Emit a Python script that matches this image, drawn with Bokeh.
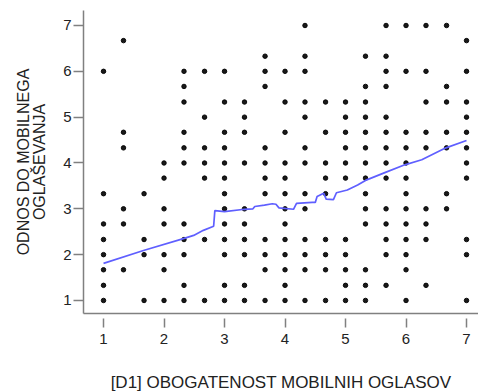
from bokeh.plotting import figure
from bokeh.models import Range1d, FixedTicker
from bokeh.embed import file_html
from bokeh.resources import INLINE

# y levels (scale averages) and the x values that occur at each level
y_levels = [7, 6.67, 6.33, 6, 5.67, 5.33, 5, 4.67, 4.33, 4,
            3.67, 3.33, 3, 2.67, 2.33, 2, 1.67, 1.33, 1]
x_at_level = [
    [4.33, 5.67, 6, 6.33, 6.67],
    [1.33, 7],
    [3.67, 4.33, 5.33, 5.67],
    [1, 2.33, 2.67, 3, 3.67, 4, 4.33, 5.67, 6, 6.33, 7],
    [2.33, 3.67, 5.33, 5.67, 6.67],
    [2.33, 3, 3.33, 4, 4.33, 4.67, 5, 5.33, 6.33, 6.67, 7],
    [2.67, 3.33, 4.33, 5, 5.33, 5.67, 7],
    [1.33, 2.33, 3, 3.33, 4, 4.67, 5, 5.33, 5.67, 6, 6.33, 6.67, 7],
    [1.33, 2.33, 2.67, 3, 3.67, 4.33, 5, 5.33, 5.67, 6, 6.33, 6.67, 7],
    [2, 2.33, 2.67, 3, 3.33, 3.67, 4, 4.33, 4.67, 5, 5.33, 5.67, 6, 7],
    [2, 2.67, 3, 3.67, 4, 4.67, 5, 5.33, 5.67, 6, 7],
    [1, 1.67, 3, 3.67, 4, 4.33, 4.67, 5.33, 6, 6.67],
    [1.33, 2, 3, 3.33, 4, 4.33, 5.33, 5.67, 6, 6.33, 6.67],
    [1, 1.33, 2, 2.33, 3, 3.33, 4, 5.33, 5.67, 6, 6.33],
    [1, 1.67, 2.33, 2.67, 3, 3.33, 3.67, 4, 4.33, 4.67, 5, 5.67, 6, 6.33, 7],
    [1, 1.67, 2, 2.33, 3, 3.33, 3.67, 4, 4.33, 4.67, 5, 5.67, 6, 7],
    [1, 1.33, 2, 3.67, 4, 4.33, 4.67, 5, 5.33, 6],
    [1, 2.33, 3, 3.33, 4, 5, 5.33, 5.67, 6.33],
    [1, 1.67, 2, 2.33, 2.67, 3, 3.33, 3.67, 4, 4.33, 4.67, 5, 5.33, 6, 7],
]

# loess fit line
fit_x = [1.0, 1.66, 2.32, 2.49, 2.65, 2.82, 2.84, 3.0, 3.33, 3.47, 3.50,
         3.66, 3.79, 3.85, 3.90, 4.14, 4.19, 4.45, 4.50, 4.53, 4.64, 4.68,
         4.80, 4.85, 5.03, 5.20, 5.33, 5.65, 5.98, 6.26, 6.66, 7.0]
fit_y = [1.81, 2.09, 2.35, 2.42, 2.53, 2.62, 2.96, 2.94, 2.99, 3.00, 3.05,
         3.08, 3.11, 3.10, 3.02, 2.99, 3.12, 3.14, 3.14, 3.27, 3.34, 3.21,
         3.20, 3.35, 3.41, 3.52, 3.62, 3.79, 3.96, 4.07, 4.33, 4.49]

ticks = [1, 2, 3, 4, 5, 6, 7]
x_title = "[D1] OBOGATENOST MOBILNIH OGLASOV"
y_title = "ODNOS DO MOBILNEGA\nOGLAŠEVANJA"

dot_x = [x for xs in x_at_level for x in xs]
dot_y = [y for y, xs in zip(y_levels, x_at_level) for _ in xs]

p = figure(output_backend="svg", toolbar_location=None,
           frame_width=395, frame_height=303,
           min_border_left=83, min_border_top=10, min_border_right=0,
           min_border_bottom=0,
           x_range=Range1d(0.669, 7.198), y_range=Range1d(0.716, 7.327))
p.background_fill_color = "white"
p.border_fill_color = "white"
p.outline_line_color = None
p.xgrid.visible = False
p.ygrid.visible = False

p.scatter(dot_x, dot_y, size=4.5, color="black", alpha=0.9)
p.line(fit_x, fit_y, line_color="#5f5fff", line_width=1.7)

for ax in (p.xaxis[0], p.yaxis[0]):
    ax.ticker = FixedTicker(ticks=ticks)
    ax.minor_tick_line_color = None
    ax.axis_line_color = "#808080"
    ax.axis_line_width = 1.5
    ax.major_tick_line_color = "#808080"
    ax.major_tick_line_width = 1.5
    ax.major_label_text_font = "Liberation Sans"
    ax.major_label_text_font_size = "15px"
    ax.major_label_text_color = "#222222"
    ax.axis_label_text_font = "Liberation Sans"
    ax.axis_label_text_font_style = "normal"
    ax.axis_label_text_color = "#222222"

p.xaxis.axis_label = x_title
p.xaxis.axis_label_text_font_size = "17px"
p.xaxis.major_tick_in = -5
p.xaxis.major_tick_out = 14
p.xaxis.major_label_standoff = 6
p.xaxis.axis_label_standoff = 26

p.yaxis.axis_label = y_title
p.yaxis.axis_label_text_font_size = "16px"
p.yaxis.axis_label_text_line_height = 0.95
p.yaxis.major_tick_in = 0
p.yaxis.major_tick_out = 10
p.yaxis.major_label_standoff = 2
p.yaxis.axis_label_standoff = 12

open("out.html", "w").write(file_html(p, INLINE))
